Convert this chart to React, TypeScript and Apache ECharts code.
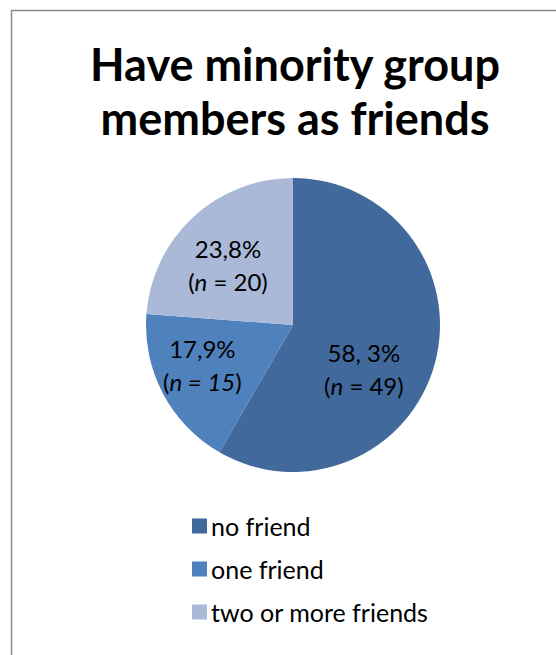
import React, { useEffect, useRef } from "react";
import * as echarts from "echarts";

const categories = ["no friend", "one friend", "two or more friends"];
const counts = [49, 15, 20];
const percentLabels = ["58, 3%", "17,9%", "23,8%"];
const colors = ["#41699C", "#4F81BD", "#AAB9D7"];
const titleLines = ["Have minority group", "members as friends"];

export default function App() {
  const ref = useRef<HTMLDivElement>(null);
  useEffect(() => {
    if (!ref.current) return;
    const chart = echarts.init(ref.current, undefined, { renderer: "svg" });
    const labelOffsets = [
      [-3, 24],
      [-23, 4],
      [-13, -4],
    ];
    const data = categories.map((name, i) => ({
      name,
      value: counts[i],
      itemStyle: { color: colors[i] },
      label: {
        offset: labelOffsets[i],
        formatter:
          i === 1
            ? `${percentLabels[i]}\n{p|(}{it|n = ${counts[i]}}{p|)}`
            : `${percentLabels[i]}\n{p|(}{it|n}{p| = ${counts[i]})}`,
      },
    }));
    chart.setOption({
      animation: false,
      backgroundColor: "#ffffff",
      title: {
        text: titleLines.join("\n"),
        left: 290,
        top: 32,
        textAlign: "center",
        textStyle: {
          fontFamily: "Lato",
          fontWeight: "bold",
          fontSize: 45,
          lineHeight: 54,
          color: "#000000",
        },
      },
      graphic: [
        {
          type: "rect",
          shape: { x: 11.5, y: 10.5, width: 600, height: 700 },
          style: { fill: "none", stroke: "#8a8a8a", lineWidth: 1.5 },
          silent: true,
        },
      ],
      legend: {
        orient: "vertical",
        left: 187,
        top: 507,
        itemWidth: 15,
        itemHeight: 15,
        itemGap: 15,
        icon: "rect",
        data: categories,
        textStyle: {
          fontFamily: "Lato",
          fontSize: 25,
          lineHeight: 28,
          color: "#000000",
          padding: [0, 0, 0, -1],
        },
      },
      series: [
        {
          type: "pie",
          center: [293, 325],
          radius: [0, 147],
          startAngle: 90,
          clockwise: true,
          avoidLabelOverlap: false,
          label: {
            show: true,
            position: "inside",
            fontFamily: "Lato",
            fontSize: 24,
            lineHeight: 33,
            color: "#000000",
            rich: {
              p: { fontFamily: "Lato", fontSize: 24, color: "#000000", lineHeight: 33 },
              it: { fontFamily: "Lato", fontSize: 24, fontStyle: "italic", color: "#000000", lineHeight: 33 },
            },
          },
          labelLine: { show: false },
          itemStyle: { borderWidth: 0 },
          emphasis: { disabled: true },
          data,
        },
      ],
    });
    return () => chart.dispose();
  }, []);
  return (
    <div
      ref={ref}
      style={{ position: "fixed", left: 0, top: 0, width: 556, height: 655 }}
    />
  );
}
